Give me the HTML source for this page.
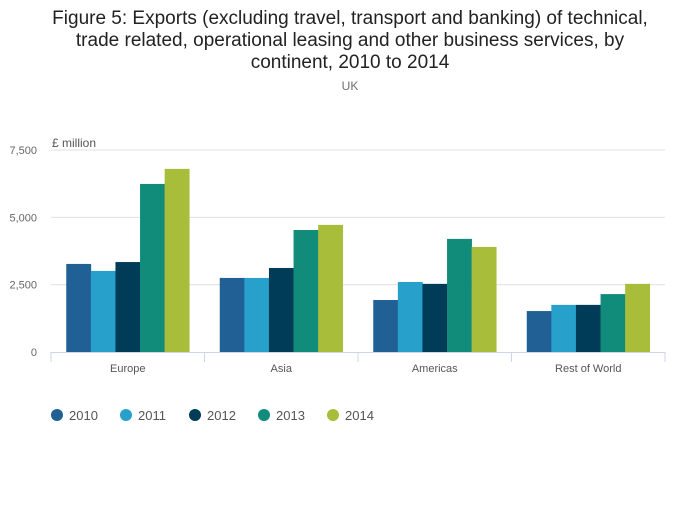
<!DOCTYPE html>
<html><head><meta charset="utf-8"><style>
body{margin:0;background:#fff;font-family:"Liberation Sans",sans-serif;}
svg text{font-family:"Liberation Sans",sans-serif;}
</style></head><body>
<svg width="700" height="502" id="chart">
<text x="350" y="24" text-anchor="middle" font-size="19" fill="#222">Figure 5: Exports (excluding travel, transport and banking) of technical,</text>
<text x="350" y="46" text-anchor="middle" font-size="19" fill="#222">trade related, operational leasing and other business services, by</text>
<text x="350" y="68" text-anchor="middle" font-size="19" fill="#222">continent, 2010 to 2014</text>
<text x="350" y="90" text-anchor="middle" font-size="12" fill="#707070">UK</text>
<text x="52" y="147" font-size="12" fill="#555">£ million</text>
<g id="grid"></g><g id="bars"></g><g id="axis"></g><g id="legend"></g>
</svg>
<script>
const categories=["Europe","Asia","Americas","Rest of World"];
const years=["2010","2011","2012","2013","2014"];
const s2010=[3270,2750,1930,1520];
const s2011=[3010,2750,2600,1750];
const s2012=[3340,3120,2530,1750];
const s2013=[6240,4530,4200,2150];
const s2014=[6800,4720,3900,2530];
const yTicks=[0,2500,5000,7500];
const yTickLabels=["0","2,500","5,000","7,500"];
const colors=["#206095","#27a0cc","#003c57","#118c7b","#a8bd3a"];
const series=[s2010,s2011,s2012,s2013,s2014];
const NS="http://www.w3.org/2000/svg";
const x0=51,x1=665,y0=352,yTop=150,yMax=7500;
const y=v=>y0-(v/yMax)*(y0-yTop);
const band=(x1-x0)/categories.length;
function mk(t,a,p){const e=document.createElementNS(NS,t);for(const k in a)e.setAttribute(k,a[k]);p.appendChild(e);return e;}
const grid=document.getElementById('grid'),bars=document.getElementById('bars'),axis=document.getElementById('axis'),legend=document.getElementById('legend');
yTicks.forEach((t,i)=>{
  if(t>0){const l=mk('line',{x1:x0,x2:x1,y1:y(t),y2:y(t),stroke:'#e0e0e0'},grid);
  
  }
  const tx=mk('text',{x:37,y:y(t)+4,'text-anchor':'end','font-size':11,fill:'#666'},grid);tx.textContent=yTickLabels[i];
  
  
});
const bw=24.6,pad=(band-bw*5)/2;
categories.forEach((c,ci)=>{
  const bx=x0+ci*band;
  series.forEach((s,si)=>{
    const r=mk('rect',{x:bx+pad+si*bw,y:y(s[ci]),width:bw+0.3,height:y0-y(s[ci]),fill:colors[si]},bars);
    
    
  });
  const t=mk('text',{x:bx+band/2,y:372,'text-anchor':'middle','font-size':11,fill:'#555'},axis);t.textContent=c;
  
  
});
const al=mk('line',{x1:x0,x2:x1,y1:y0+0.5,y2:y0+0.5,stroke:'#ccd6eb'},axis);


for(let i=0;i<=categories.length;i++){const tk=mk('line',{x1:x0+i*band,x2:x0+i*band,y1:y0,y2:y0+10,stroke:'#ccd6eb'},axis);

}
const lx=[57,126,195,264,333];
years.forEach((yr,i)=>{
  const g=mk('g',{},legend);
  
  
  mk('circle',{cx:lx[i],cy:415,r:6,fill:colors[i]},g);
  const t=mk('text',{x:lx[i]+12,y:420,'font-size':13,fill:'#555'},g);t.textContent=yr;
});
</script>
</body></html>
